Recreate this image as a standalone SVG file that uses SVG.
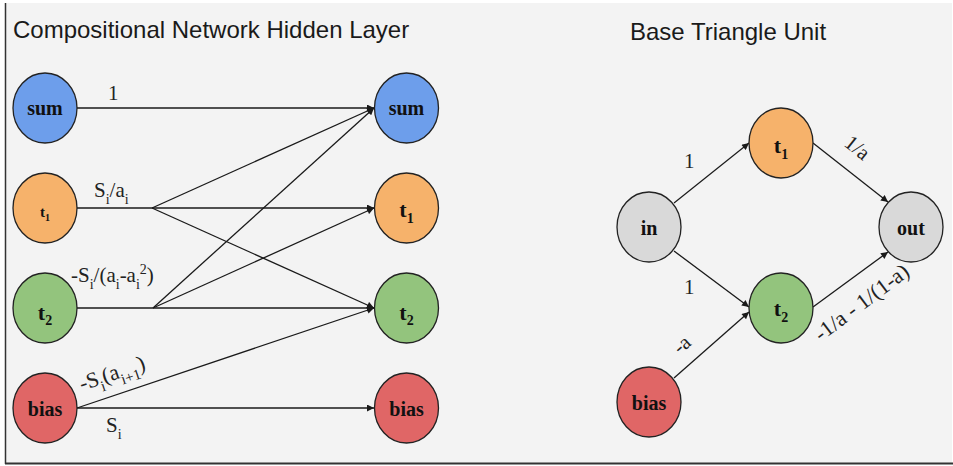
<svg xmlns="http://www.w3.org/2000/svg" width="953" height="466" viewBox="0 0 953 466">
  <defs>
    <marker id="arrow" viewBox="0 0 10 10" refX="10" refY="5" markerWidth="8" markerHeight="7" markerUnits="userSpaceOnUse" orient="auto">
      <path d="M0,0 L10,5 L0,10 z" fill="#1a1a1a"/>
    </marker>
    <style>
      .title { font-family: "Liberation Sans", Arial, sans-serif; font-size: 24px; fill: #1a1a1a; }
      .node ellipse { stroke: #222; stroke-width: 1.3; }
      .lbl { font-family: "Liberation Serif", "Times New Roman", serif; font-weight: bold; font-size: 20px; fill: #111; text-anchor: middle; }
      .elbl { font-family: "Liberation Serif", "Times New Roman", serif; font-size: 21px; fill: #222; }
      .sub { font-size: 14px; }
      .edge { stroke: #1a1a1a; stroke-width: 1.3; fill: none; }
      .blue { fill: #6d9eeb; }
      .orange { fill: #f6b26b; }
      .green { fill: #93c47d; }
      .red { fill: #e06666; }
      .grey { fill: #d9d9d9; }
    </style>
  </defs>

  <!-- canvas -->
  <rect x="0" y="0" width="953" height="466" fill="#ffffff"/>
  <rect x="5" y="3" width="947" height="460" fill="#f3f3f3"/>
  <line x1="5.5" y1="3" x2="5.5" y2="464" stroke="#333" stroke-width="1.5"/>
  <line x1="5" y1="463.5" x2="953" y2="463.5" stroke="#333" stroke-width="2"/>

  <!-- titles -->
  <text class="title" x="13" y="38">Compositional Network Hidden Layer</text>
  <text class="title" x="630" y="40">Base Triangle Unit</text>

  <!-- connectors -->
  <g id="connectors">
    <!-- hidden layer -->
    <path class="edge" d="M77,108 H374" marker-end="url(#arrow)"/>
    <path class="edge" d="M77,208 H374" marker-end="url(#arrow)"/>
    <path class="edge" d="M152,208 L374,108" marker-end="url(#arrow)"/>
    <path class="edge" d="M152,208 L374,308" marker-end="url(#arrow)"/>
    <path class="edge" d="M77,308 H374" marker-end="url(#arrow)"/>
    <path class="edge" d="M153,308 L374,108" marker-end="url(#arrow)"/>
    <path class="edge" d="M153,308 L374,208" marker-end="url(#arrow)"/>
    <path class="edge" d="M77,408 H374" marker-end="url(#arrow)"/>
    <path class="edge" d="M77,408 L374,308" marker-end="url(#arrow)"/>
    <!-- triangle unit -->
    <path class="edge" d="M674,203 L749,143" marker-end="url(#arrow)"/>
    <path class="edge" d="M674,251 L749,307" marker-end="url(#arrow)"/>
    <path class="edge" d="M674,378 L749,312" marker-end="url(#arrow)"/>
    <path class="edge" d="M813,143 L888,202" marker-end="url(#arrow)"/>
    <path class="edge" d="M813,307 L888,252" marker-end="url(#arrow)"/>

    <!-- weights -->
    <text class="elbl" x="108" y="100">1</text>
    <text class="elbl" x="94" y="197">S<tspan class="sub" dy="7">i</tspan><tspan dy="-7">/a</tspan><tspan class="sub" dy="7">i</tspan></text>
    <text class="elbl" x="71" y="282">-S<tspan class="sub" dy="7">i</tspan><tspan dy="-7">/(a</tspan><tspan class="sub" dy="7">i</tspan><tspan dy="-7">-a</tspan><tspan class="sub" dy="7">i</tspan><tspan class="sub" dy="-15">2</tspan><tspan dy="8">)</tspan></text>
    <text class="elbl" x="82" y="391" transform="rotate(-18.6 82 391)" style="font-size:22px">-S<tspan class="sub" style="font-size:15px" dy="7">i</tspan><tspan dy="-7">(a</tspan><tspan class="sub" style="font-size:15px" dy="7">i+1</tspan><tspan dy="-7">)</tspan></text>
    <text class="elbl" x="106" y="432">S<tspan class="sub" dy="7">i</tspan></text>

    <text class="elbl" x="684" y="168">1</text>
    <text class="elbl" x="684" y="294">1</text>
    <text class="elbl" x="680" y="355" transform="rotate(-41 680 355)">-a</text>
    <text class="elbl" x="843" y="145" transform="rotate(38.7 843 145)">1/a</text>
    <text class="elbl" x="821" y="342" transform="rotate(-37 821 342)" style="font-size:22px">-1/a - 1/(1-a)</text>
  </g>

  <!-- hidden layer, inputs -->
  <g id="in-sum" class="node"><ellipse class="blue" cx="45" cy="108" rx="32" ry="35"/><text class="lbl" x="45" y="115">sum</text></g>
  <g id="in-t1" class="node"><ellipse class="orange" cx="45" cy="208" rx="32" ry="35"/><text class="lbl" x="45" y="217" style="font-size:15px">t<tspan style="font-size:10px" dy="4">1</tspan></text></g>
  <g id="in-t2" class="node"><ellipse class="green" cx="45" cy="308" rx="32" ry="35"/><text class="lbl" x="45" y="320" style="font-size:22px">t<tspan style="font-size:14px" dy="5">2</tspan></text></g>
  <g id="in-bias" class="node"><ellipse class="red" cx="45" cy="408" rx="32" ry="35"/><text class="lbl" x="45" y="416">bias</text></g>

  <!-- hidden layer, outputs -->
  <g id="out-sum" class="node"><ellipse class="blue" cx="406.5" cy="108" rx="32" ry="35"/><text class="lbl" x="406.5" y="115">sum</text></g>
  <g id="out-t1" class="node"><ellipse class="orange" cx="406.5" cy="208" rx="32" ry="35"/><text class="lbl" x="406.5" y="217" style="font-size:22px">t<tspan style="font-size:14px" dy="6">1</tspan></text></g>
  <g id="out-t2" class="node"><ellipse class="green" cx="406.5" cy="308" rx="32" ry="35"/><text class="lbl" x="406.5" y="320" style="font-size:22px">t<tspan style="font-size:14px" dy="5">2</tspan></text></g>
  <g id="out-bias" class="node"><ellipse class="red" cx="406.5" cy="408" rx="32" ry="35"/><text class="lbl" x="406.5" y="416">bias</text></g>

  <!-- triangle unit -->
  <g id="tri-in" class="node"><ellipse class="grey" cx="649" cy="227" rx="32" ry="35"/><text class="lbl" x="649" y="235">in</text></g>
  <g id="tri-t1" class="node"><ellipse class="orange" cx="781" cy="143" rx="32" ry="35"/><text class="lbl" x="781" y="153" style="font-size:22px">t<tspan style="font-size:14px" dy="6">1</tspan></text></g>
  <g id="tri-t2" class="node"><ellipse class="green" cx="781" cy="308" rx="32" ry="35"/><text class="lbl" x="781" y="316" style="font-size:22px">t<tspan style="font-size:14px" dy="6">2</tspan></text></g>
  <g id="tri-out" class="node"><ellipse class="grey" cx="911" cy="227" rx="32" ry="35"/><text class="lbl" x="911" y="235">out</text></g>
  <g id="tri-bias" class="node"><ellipse class="red" cx="649" cy="402" rx="32" ry="35"/><text class="lbl" x="649" y="410">bias</text></g>
</svg>
